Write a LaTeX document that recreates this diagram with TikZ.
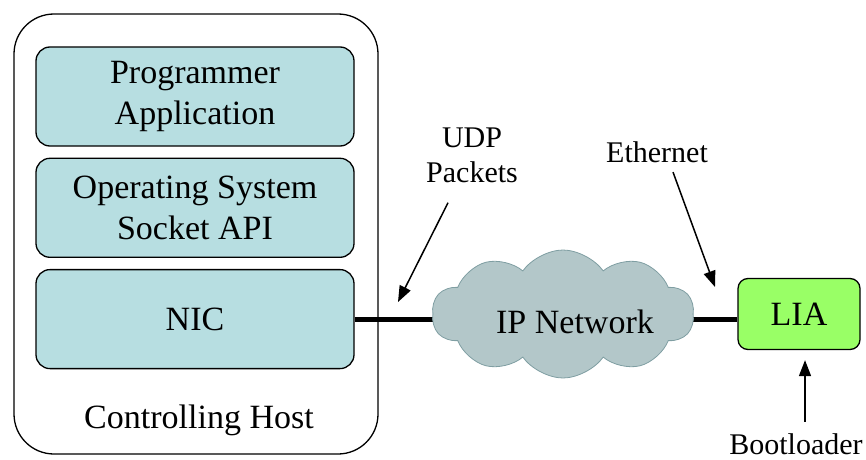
\documentclass[tikz,border=0pt]{standalone}
\usepackage{fontspec}
\setmainfont{Liberation Serif}
\usetikzlibrary{arrows.meta,positioning,shapes.symbols,backgrounds}
\definecolor{layer}{HTML}{B7DEE1}
\definecolor{cloudfill}{HTML}{B3C7C9}
\definecolor{cloudline}{HTML}{7F9EA2}
\definecolor{board}{HTML}{99FF66}
\tikzset{hostbox/.style={draw,line width=1.3pt,rounded corners=40pt,minimum width=364pt,minimum height=440pt},
 layerbox/.style={draw,fill=layer,line width=1.3pt,rounded corners=14pt,align=center,
 minimum width=318pt,minimum height=99pt,font=\fontsize{34}{41}\selectfont},
 netcloud/.style={cloud,cloud puffs=10,cloud puff arc=110,cloud ignores aspect,draw=cloudline,fill=cloudfill,
 line width=0.8pt,minimum width=262pt,minimum height=128pt,font=\fontsize{34}{41}\selectfont},
 callout/.style={-{Triangle[length=16pt,width=12pt]},line width=1.5pt},
 link/.style={line width=5pt},
 tag/.style={align=center,font=\fontsize{30}{35}\selectfont}}

\begin{document}
\begin{tikzpicture}[x=1pt,y=1pt,node distance=11pt]
\useasboundingbox (0,0) rectangle (866,459);
\node[hostbox] (host) at (196,225) {};
\node[layerbox] (app) at (195,362.5) {Programmer\\Application};
\node[layerbox,below=of app] (os) {Operating System\\Socket API};
\node[layerbox,below=of os] (nic) {NIC};
\node[font=\fontsize{34}{41}\selectfont] (hostname) at (199,39) {Controlling Host};
\node[netcloud,label={[xshift=12pt,yshift=-8pt,font=\fontsize{34}{41}\selectfont]center:IP Network}] (net) at (563,145) {};
\node[draw,fill=board,line width=1.3pt,rounded corners=10pt,minimum width=122pt,minimum height=71pt,
 font=\fontsize{34}{41}\selectfont] (lia) at (799,145) {LIA};
\begin{scope}[on background layer]
\draw[link] (nic.east) -- (nic.east -| lia.west);
\end{scope}
% labels with their pointers
\node[tag,inner ysep=20pt] (udp) at (472,304) {UDP\\Packets};
\coordinate (udptip) at (398,157);
\draw[callout] (udp) -- (udptip);
\node[tag] (eth) at (657,307) {Ethernet};
\coordinate (ethtip) at (715,172);
\draw[callout] ([xshift=16pt,yshift=-6pt]eth.south) -- (ethtip);
\node[tag,anchor=base] (boot) at (796,5) {Bootloader};
\draw[callout,shorten <=8pt,shorten >=10pt] ([xshift=9pt]boot.north) -- ([xshift=6pt]lia.south);
\end{tikzpicture}
\end{document}
